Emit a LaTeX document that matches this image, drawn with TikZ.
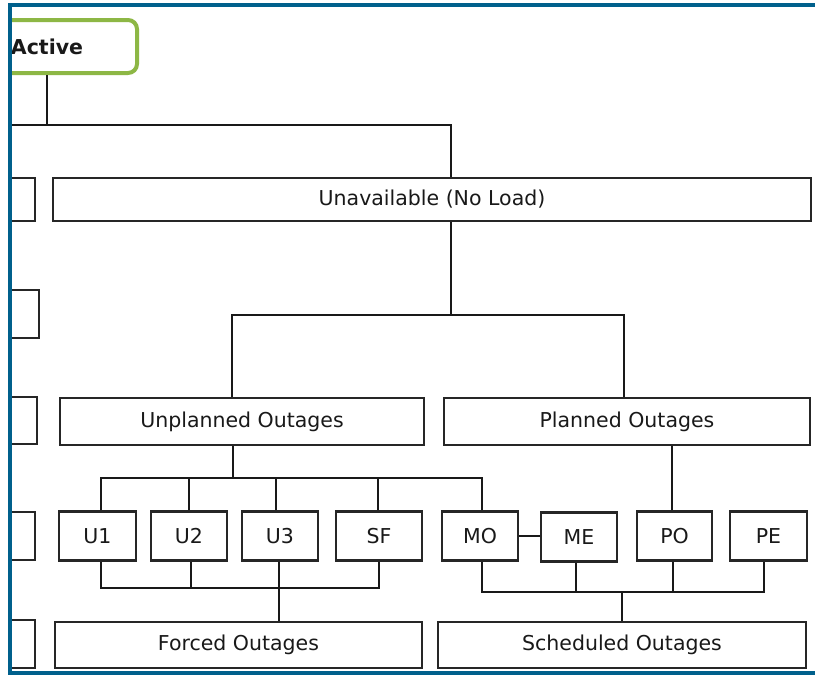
\documentclass[tikz,border=0pt]{standalone}
\usepackage{fontspec}
\setmainfont{DejaVu Sans}
\definecolor{frameblue}{RGB}{0,96,140}
\definecolor{activegreen}{RGB}{141,183,69}
\begin{document}
\begin{tikzpicture}[x=1pt,y=-1pt,
  box/.style={draw=black!85,line width=2.2pt,rectangle,inner sep=0pt,fill=white,
    text=black!90,font=\fontsize{20.5}{24}\selectfont,anchor=center},
  conn/.style={draw=black!90,line width=2pt}]
\useasboundingbox (0,0) rectangle (815,675);
\fill[white] (0,0) rectangle (815,675);
\begin{scope}
\clip (11,0) rectangle (815,675);
% active
\node[box,draw=activegreen,line width=4pt,rounded corners=9pt,
  minimum width=180pt,minimum height=53pt,font=\fontsize{20.5}{24}\selectfont\bfseries] (active) at (47,46.5) {Active};
% left cut-off boxes
\node[box,minimum width=75pt,minimum height=43pt] (L1) at (-2.5,199.5) {};
\node[box,minimum width=80pt,minimum height=48pt] (L2) at (-1,314) {};
\node[box,minimum width=74pt,minimum height=47pt] (L3) at (0,420.5) {};
\node[box,minimum width=74pt,minimum height=48pt] (L4) at (-2,536) {};
\node[box,minimum width=74pt,minimum height=48pt] (L5) at (-2,644) {};
% main boxes
\node[box,minimum width=758pt,minimum height=43pt] (unav) at (432,199.5) {Unavailable (No Load)};
\node[box,minimum width=364pt,minimum height=47pt] (unpl) at (242,421.5) {Unplanned Outages};
\node[box,minimum width=366pt,minimum height=47pt] (plan) at (627,421.5) {Planned Outages};
\node[box,minimum width=77pt,minimum height=49pt] (U1) at (97.5,536) {U1};
\node[box,minimum width=76pt,minimum height=49pt] (U2) at (189,536) {U2};
\node[box,minimum width=76pt,minimum height=49pt] (U3) at (280,536) {U3};
\node[box,minimum width=86pt,minimum height=49pt] (SF) at (379,536) {SF};
\node[box,minimum width=76pt,minimum height=49pt] (MO) at (480,536) {MO};
\node[box,minimum width=76pt,minimum height=49pt] (ME) at (579,537) {ME};
\node[box,minimum width=75pt,minimum height=49pt] (PO) at (674.5,536) {PO};
\node[box,minimum width=77pt,minimum height=49pt] (PE) at (768.5,536) {PE};
\node[box,minimum width=367pt,minimum height=46pt] (forced) at (238.5,645) {Forced Outages};
\node[box,minimum width=368pt,minimum height=46pt] (sched) at (622,645) {Scheduled Outages};
% connectors
\coordinate (b0) at (-10,125);
\draw[conn] (active.south) -- (active.south |- b0);
\draw[conn] (b0) -| ([xshift=19pt]unav.north);
\coordinate (b1) at (0,315);
\draw[conn] ([xshift=19pt]unav.south) -- ([xshift=19pt]unav.south |- b1);
\draw[conn] ([xshift=-10pt]unpl.north) |- ([xshift=-3pt]plan.north |- b1) -- ([xshift=-3pt]plan.north);
\coordinate (b2) at (0,478);
\draw[conn] ([xshift=-9pt]unpl.south) -- ([xshift=-9pt]unpl.south |- b2);
\draw[conn] ([xshift=3.5pt]U1.north) |- ([xshift=2pt]MO.north |- b2) -- ([xshift=2pt]MO.north);
\draw[conn] (U2.north) -- (U2.north |- b2);
\draw[conn] ([xshift=-4pt]U3.north) -- ([xshift=-4pt]U3.north |- b2);
\draw[conn] ([xshift=-1pt]SF.north) -- ([xshift=-1pt]SF.north |- b2);
\draw[conn] ([xshift=-2.5pt]PO.north) -- ([xshift=-2.5pt]PO.north |- plan.south);
\draw[conn] (MO.east) -- (MO.east -| ME.west);
\coordinate (b3) at (0,588);
\draw[conn] ([xshift=3.5pt]U1.south) |- (SF.south |- b3) -- (SF.south);
\draw[conn] ([xshift=2pt]U2.south) -- ([xshift=2pt]U2.south |- b3);
\draw[conn] ([xshift=-1pt]U3.south) -- ([xshift=-1pt]U3.south |- b3);
\draw[conn] ([xshift=40.5pt]forced.north) -- ([xshift=40.5pt]forced.north |- b3);
\coordinate (b4) at (0,592);
\draw[conn] ([xshift=2pt]MO.south) |- ([xshift=-4.5pt]PE.south |- b4) -- ([xshift=-4.5pt]PE.south);
\draw[conn] ([xshift=-3pt]ME.south) -- ([xshift=-3pt]ME.south |- b4);
\draw[conn] ([xshift=-1.5pt]PO.south) -- ([xshift=-1.5pt]PO.south |- b4);
\draw[conn] (sched.north) -- (sched.north |- b4);
\end{scope}
% blue frame
\draw[frameblue,line width=4pt] (815,4.5) -- (9.5,4.5) -- (9.5,672.5) -- (815,672.5);
\end{tikzpicture}
\end{document}
